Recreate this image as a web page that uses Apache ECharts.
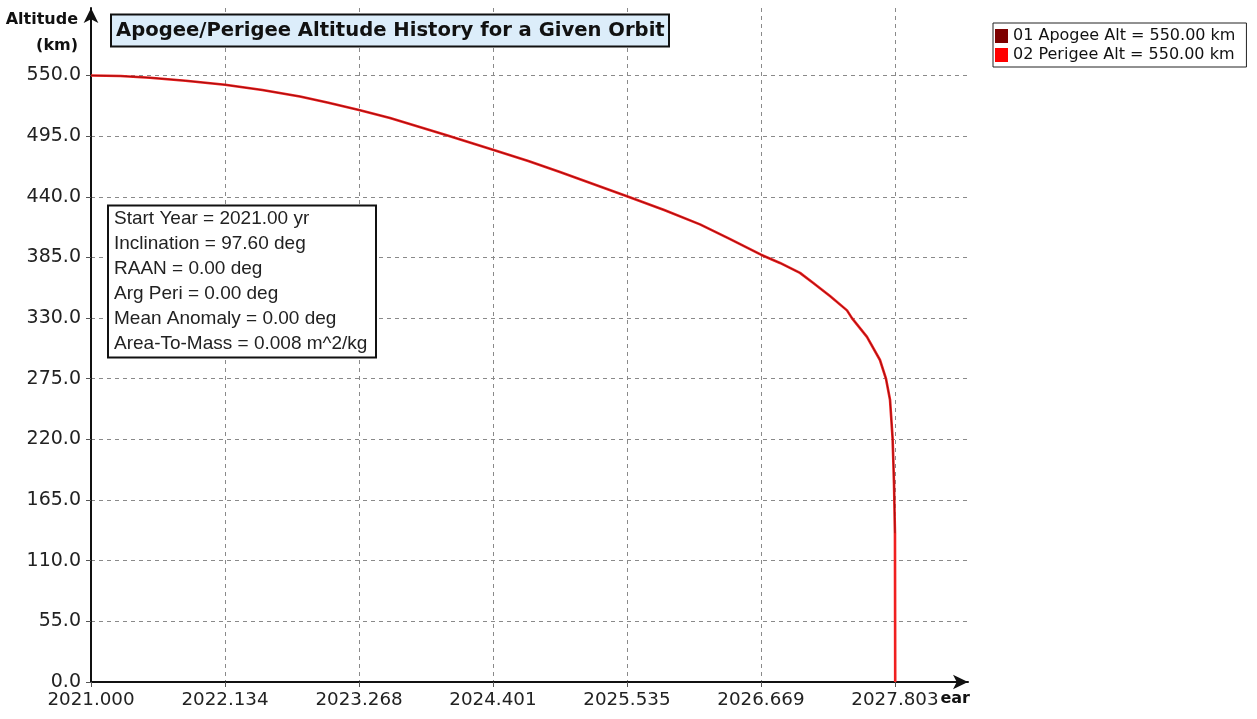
<!DOCTYPE html>
<html>
<head>
<meta charset="utf-8">
<script src="https://cdn.jsdelivr.net/npm/echarts@6/dist/echarts.min.js"></script>
<style>
html,body{margin:0;padding:0;background:#fff;}
#chart{width:1257px;height:719px;}
</style>
</head>
<body>
<div id="chart"></div>
<script>
// ---- data ----
const years   = [2021.000, 2021.250, 2021.499, 2021.800, 2022.134, 2022.450, 2022.768, 2023.000, 2023.268, 2023.530, 2024.010, 2024.401, 2024.700, 2024.968, 2025.535, 2025.850, 2026.153, 2026.400, 2026.669, 2026.830, 2026.999, 2027.109, 2027.253, 2027.397, 2027.439, 2027.566, 2027.676, 2027.727, 2027.761, 2027.783, 2027.795, 2027.803, 2027.805];
const perigee = [550, 549.5, 548, 545.3, 541.6, 536.8, 531, 525.5, 518.7, 511.5, 495.8, 482.6, 472.5, 462.5, 440.5, 428, 415, 402, 387.5, 380, 371, 362, 350, 337, 330, 313, 292, 275, 256, 221, 180, 135, 0];
const apogee  = [550, 549.5, 548, 545.3, 541.6, 536.8, 531, 525.5, 518.7, 511.5, 495.8, 482.6, 472.5, 462.5, 440.5, 428, 415, 402, 387.5, 380, 371, 362, 350, 337, 330, 313, 292, 275, 256, 221, 180, 135, null];
const xTicks  = [2021.000, 2022.134, 2023.268, 2024.401, 2025.535, 2026.669, 2027.803];
const yTicks  = [0, 55, 110, 165, 220, 275, 330, 385, 440, 495, 550];
const seriesNames = ['01 Apogee Alt = 550.00 km', '02 Perigee Alt = 550.00 km'];
const titleText = 'Apogee/Perigee Altitude History for a Given Orbit';
const infoLines = ['Start Year = 2021.00 yr', 'Inclination = 97.60 deg', 'RAAN = 0.00 deg', 'Arg Peri = 0.00 deg', 'Mean Anomaly = 0.00 deg', 'Area-To-Mass = 0.008 m^2/kg'];

const chart = echarts.init(document.getElementById('chart'), null, {renderer: 'canvas'});
const pair = (arr) => years.map((y, i) => [y, arr[i]]);
const nameFont = {fontFamily: 'DejaVu Sans', fontWeight: 'bold', fontSize: 16};

const option = {
  backgroundColor: '#ffffff',
  animation: false,
  title: [
    {
      text: titleText,
      left: 111, top: 14,
      backgroundColor: '#dcedfa',
      borderColor: '#111', borderWidth: 2,
      padding: [6.5, 5, 6.5, 5],
      textStyle: {fontFamily: 'DejaVu Sans', fontWeight: 'bold', fontSize: 19.6, color: '#111'}
    },
    {
      text: infoLines.join('\n'),
      left: 108, top: 205,
      backgroundColor: '#ffffff',
      borderColor: '#111', borderWidth: 2,
      padding: [1.5, 9, 1.5, 6],
      textStyle: {fontFamily: 'Liberation Sans', fontWeight: 'normal', fontSize: 19, lineHeight: 25, color: '#222'}
    }
  ],
  legend: {
    orient: 'vertical',
    left: 993, top: 23,
    borderColor: '#222', borderWidth: 1,
    padding: [5, 11, 4, 2],
    itemGap: 3,
    itemWidth: 13, itemHeight: 14,
    icon: 'rect',
    data: seriesNames,
    textStyle: {fontFamily: 'DejaVu Sans', fontSize: 16, color: '#111', lineHeight: 15}
  },
  grid: {left: 91, right: 289, top: 8, bottom: 37, containLabel: false},
  xAxis: {
    type: 'value',
    min: 2021, max: 2028.421,
    name: '{h|Y}{e|ear}',
    nameLocation: 'end',
    nameGap: 2,
    nameMoveOverlap: false,
    nameTextStyle: Object.assign({}, nameFont, {color: '#111', align: 'right', verticalAlign: 'top', padding: [9, 0, 0, 0],
      rich: {
        h: Object.assign({}, nameFont, {color: 'rgba(0,0,0,0)'}),
        e: Object.assign({}, nameFont, {color: '#111'})
      }}),
    axisLine: {show: true, lineStyle: {color: '#111', width: 2}, symbol: ['none', 'arrow'], symbolSize: [11, 15]},
    axisTick: {show: true, inside: false, length: 5, lineStyle: {color: '#555'}, customValues: xTicks},
    axisLabel: {customValues: xTicks, margin: 9, fontFamily: 'DejaVu Sans', fontSize: 18.3, color: '#222',
                formatter: (v) => v.toFixed(3)},
    splitLine: {show: true, lineStyle: {color: '#8a8a8a', type: [4, 4], width: 1}}
  },
  yAxis: {
    type: 'value',
    min: 0, max: 611.2,
    name: 'Altitude\n(km)',
    nameLocation: 'end',
    nameGap: 1,
    nameMoveOverlap: false,
    nameTextStyle: {fontFamily: 'DejaVu Sans', fontWeight: 'bold', fontSize: 16, lineHeight: 26, color: '#111', align: 'right', verticalAlign: 'top', padding: [0, 13, 0, 0]},
    axisLine: {show: true, lineStyle: {color: '#111', width: 2}, symbol: ['none', 'arrow'], symbolSize: [11, 15]},
    axisTick: {show: true, inside: false, length: 5, lineStyle: {color: '#555'}, customValues: yTicks},
    axisLabel: {customValues: yTicks, margin: 10, fontFamily: 'DejaVu Sans', fontSize: 19, color: '#222',
                formatter: (v) => v.toFixed(1)},
    splitLine: {show: true, lineStyle: {color: '#8a8a8a', type: [4, 4], width: 1}}
  },
  series: [
    {
      name: seriesNames[0], type: 'line', data: pair(apogee),
      showSymbol: false, smooth: false, connectNulls: false, z: 4,
      itemStyle: {color: '#7d0000'},
      lineStyle: {color: '#8a0a0a', width: 1, opacity: 0.8}
    },
    {
      name: seriesNames[1], type: 'line', data: pair(perigee),
      showSymbol: false, smooth: false, z: 3,
      itemStyle: {color: '#ff0000'},
      lineStyle: {color: '#f02020', width: 2.6}
    }
  ]
};
chart.setOption(option);
</script>
</body>
</html>
